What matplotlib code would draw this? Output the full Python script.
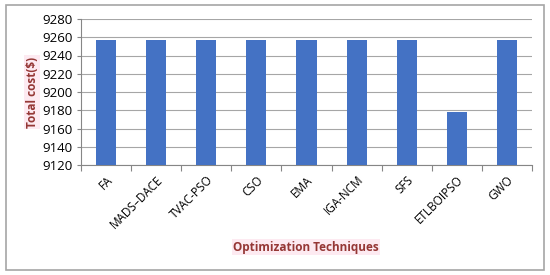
import matplotlib
matplotlib.use('Agg')
import matplotlib.pyplot as plt
from matplotlib.patches import Rectangle

techniques = ['FA', 'MADS\u2013DACE', 'TVAC-PSO', 'CSO', 'EMA', 'IGA-NCM', 'SFS', 'ETLBOIPSO', 'GWO']
total_cost = [9257.5, 9257.5, 9257.5, 9257.5, 9257.5, 9257.5, 9257.5, 9178.5, 9257.5]
yticks = [9120, 9140, 9160, 9180, 9200, 9220, 9240, 9260, 9280]

plt.rcParams['font.family'] = ['Open Sans', 'DejaVu Sans']

fig = plt.figure(figsize=(5.5, 2.75), dpi=100)
ax = fig.add_axes([81 / 550, 1 - 165 / 275, (532 - 81) / 550, (165 - 19) / 275])

x = list(range(len(techniques)))
ax.bar(x, [v - yticks[0] for v in total_cost], bottom=yticks[0], width=0.4,
       color='#4472C4', zorder=3)

ax.set_xlim(-0.5, len(techniques) - 0.5)
ax.set_ylim(yticks[0], yticks[-1])
ax.set_yticks(yticks)
ax.tick_params(axis='y', labelsize=9.5, length=3, color='#868686', pad=3)
ax.grid(axis='y', color='#A6A6A6', linewidth=0.8, zorder=0)

# category separators as major ticks, names as minor ticks
ax.set_xticks([i + 0.5 for i in range(-1, len(techniques))], minor=False)
ax.set_xticklabels([])
ax.set_xticks(x, minor=True)
ax.set_xticklabels(techniques, minor=True, rotation=45, ha='right', rotation_mode='anchor', fontsize=8.5)
ax.tick_params(axis='x', which='major', length=4, color='#868686')
ax.tick_params(axis='x', which='minor', length=0, pad=6)

for s in ['top', 'right']:
    ax.spines[s].set_visible(False)
ax.spines['left'].set_color('#868686')
ax.spines['bottom'].set_color('#868686')

label_color = '#953735'
fig.text(32 / 550, 1 - 92 / 275, 'Total cost($)', rotation=90, ha='center', va='center',
         fontsize=8.5, fontweight='bold', color=label_color,
         bbox=dict(facecolor='#FDEAF1', edgecolor='none', pad=1))
fig.text(306 / 550, 1 - 247 / 275, 'Optimization Techniques', ha='center', va='center',
         fontsize=8.5, fontweight='bold', color=label_color,
         bbox=dict(facecolor='#FDEAF1', edgecolor='none', pad=1))

fig.patches.append(Rectangle((6 / 550, 5 / 275), 538 / 550, 265 / 275, transform=fig.transFigure,
                             fill=False, edgecolor='#A6A6A6', linewidth=1.2))

fig.savefig('out.png', dpi=100)
